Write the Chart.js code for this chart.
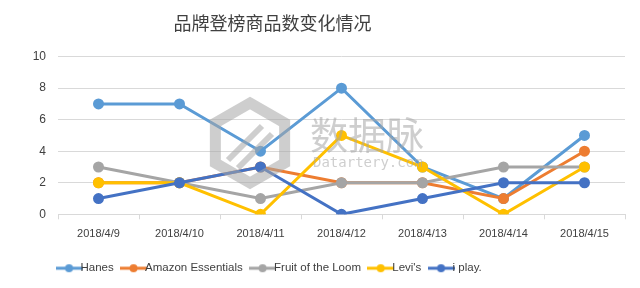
<!DOCTYPE html>
<html lang="zh">
<head>
<meta charset="UTF-8">
<title>品牌登榜商品数变化情况</title>
<script src="https://cdn.jsdelivr.net/npm/chart.js"></script>
<style>
  html, body { margin: 0; padding: 0; background: #fff; }
</style>
</head>
<body>
<canvas id="chart" width="640" height="288"></canvas>
<script>
// data
const dates = ['2018/4/9', '2018/4/10', '2018/4/11', '2018/4/12', '2018/4/13', '2018/4/14', '2018/4/15'];
const hanes = [7, 7, 4, 8, 3, 1, 5];
const amazon = [2, 2, 3, 2, 2, 1, 4];
const fruit = [3, 2, 1, 2, 2, 3, 3];
const levis = [2, 2, 0, 5, 3, 0, 3];
const iplay = [1, 2, 3, 0, 1, 2, 2];
const yTicks = [0, 2, 4, 6, 8, 10];

const labelFont = "'Liberation Sans', Arial, sans-serif";

// legend marker: short line with a dot in the middle
function marker(color) {
  const c = document.createElement('canvas');
  c.width = 27; c.height = 10;
  const g = c.getContext('2d');
  g.strokeStyle = color; g.lineWidth = 3;
  g.beginPath(); g.moveTo(0, 5); g.lineTo(27, 5); g.stroke();
  g.fillStyle = color;
  g.beginPath(); g.arc(13.5, 5, 4, 0, Math.PI * 2); g.fill();
  return c;
}

function series(label, data, color, order) {
  return {
    label, data, order,
    borderColor: color, backgroundColor: color,
    borderWidth: 3, pointRadius: 4, pointHoverRadius: 4,
    pointStyle: 'circle', tension: 0,
  };
}

// the reference's title and legend sit left of centre
const shiftBlocks = {
  id: 'shiftBlocks',
  afterLayout(chart) {
    [chart.titleBlock, chart.legend].forEach(b => {
      if (!b) return;
      b.left -= 40;
      b.right -= 40;
    });
  }
};

// faint watermark over the lines
const watermark = {
  id: 'watermark',
  afterDatasetsDraw(chart) {
    const ctx = chart.ctx;
    ctx.save();
    ctx.globalAlpha = 0.55;
    ctx.strokeStyle = '#a6a6a6';
    ctx.fillStyle = '#a6a6a6';
    ctx.lineWidth = 11;
    const cx = 250, cy = 143, r = 40;
    ctx.beginPath();
    for (let i = 0; i < 6; i++) {
      const a = i * Math.PI / 3 - Math.PI / 2;
      const x = cx + r * Math.cos(a), y = cy + r * Math.sin(a);
      i ? ctx.lineTo(x, y) : ctx.moveTo(x, y);
    }
    ctx.closePath();
    ctx.stroke();
    ctx.lineWidth = 6;
    ctx.beginPath();
    ctx.moveTo(228, 160); ctx.lineTo(262, 126);
    ctx.moveTo(238, 168); ctx.lineTo(272, 134);
    ctx.stroke();
    ctx.font = "38px 'Noto Sans CJK SC', sans-serif";
    ctx.textBaseline = 'middle';
    ctx.fillText('数据脉', 310, 135);
    ctx.font = "14px 'DejaVu Sans Mono', monospace";
    ctx.fillText('Datartery.com', 313, 163);
    ctx.restore();
  }
};

new Chart(document.getElementById('chart'), {
  type: 'line',
  data: {
    labels: dates,
    datasets: [
      series('Hanes', hanes, '#5B9BD5', 5),
      series('Amazon Essentials', amazon, '#ED7D31', 4),
      series('Fruit of the Loom', fruit, '#A5A5A5', 3),
      series("Levi's", levis, '#FFC000', 2),
      series('i play.', iplay, '#4472C4', 1),
    ]
  },
  plugins: [shiftBlocks, watermark],
  options: {
    responsive: false,
    animation: false,
    layout: { padding: { left: 0, right: 15, top: 8, bottom: 4 } },
    plugins: {
      title: {
        display: true,
        text: '品牌登榜商品数变化情况',
        color: '#404040',
        font: { family: "'Noto Sans CJK SC', sans-serif", size: 18, weight: 'normal' },
        padding: { top: 4, bottom: 23 }
      },
      legend: {
        position: 'bottom',
        labels: {
          usePointStyle: true,
          generateLabels(chart) {
            return chart.data.datasets.map((ds, i) => ({
              text: ds.label,
              fontColor: '#404040',
              pointStyle: marker(ds.borderColor),
              strokeStyle: ds.borderColor,
              fillStyle: ds.borderColor,
              lineWidth: 0,
              hidden: false,
              datasetIndex: i
            }));
          },
          color: '#404040',
          font: { family: labelFont, size: 11.5 },
          padding: 14,
          boxWidth: 26
        }
      },
      tooltip: { enabled: false }
    },
    scales: {
      x: {
        offset: true,
        grid: { display: true, drawOnChartArea: false, drawTicks: true, tickLength: 5, color: '#d9d9d9', offset: true },
        border: { color: '#d9d9d9' },
        ticks: { color: '#404040', font: { family: labelFont, size: 11 }, padding: 8, maxRotation: 0 }
      },
      y: {
        min: 0, max: 10,
        afterFit(scale) { scale.width = 58; },
        afterBuildTicks(scale) { scale.ticks = yTicks.map(v => ({ value: v })); },
        grid: { color: '#d9d9d9', drawTicks: false },
        border: { display: false },
        ticks: { color: '#404040', font: { family: labelFont, size: 12 }, padding: 12 }
      }
    }
  }
});
</script>
</body>
</html>
